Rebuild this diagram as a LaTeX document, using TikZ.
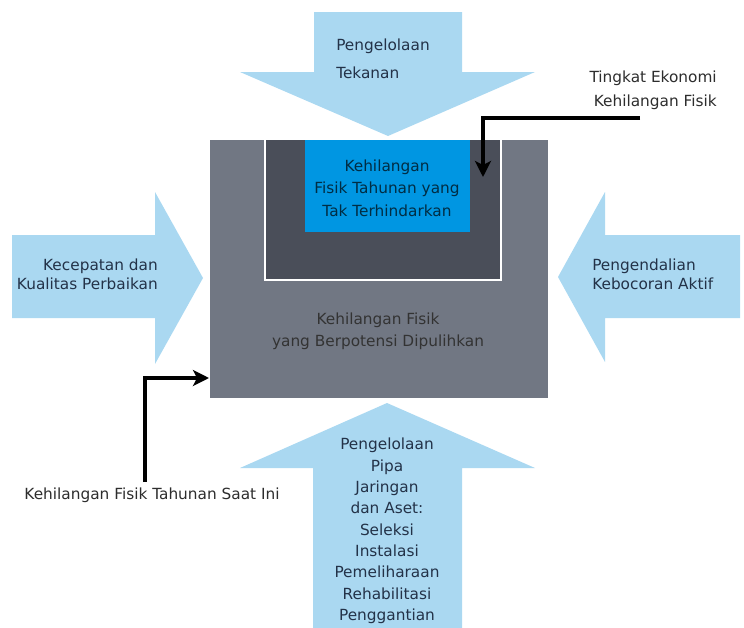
\documentclass[tikz,border=0pt]{standalone}
\usepackage{fontspec}
\setmainfont{DejaVu Sans}
\usetikzlibrary{arrows.meta, positioning}
\definecolor{biruMuda}{RGB}{170,216,241}
\definecolor{biruTua}{RGB}{0,150,226}
\definecolor{abuLuar}{RGB}{113,119,131}
\definecolor{abuDalam}{RGB}{74,78,89}
\definecolor{tinta}{RGB}{35,50,72}
\definecolor{tintaGelap}{RGB}{45,45,45}
\tikzset{
  panah/.style={fill=biruMuda, draw=none},
  teks/.style={text=tinta, inner sep=0pt, font=\fontsize{11.5}{16}\selectfont},
  keterangan/.style={teks, text=tintaGelap},
  garis/.style={-{Stealth[length=12pt, width=12pt, inset=3pt]}, line width=2.6pt, black},
}

\begin{document}
\begin{tikzpicture}[x=0.75pt, y=-0.75pt]
\useasboundingbox (0,0) rectangle (744,628);

% panah biru muda
\fill[panah] (314,12) -- (462,12) -- (462,72) -- (535,72) -- (388,136)
  -- (240,72) -- (314,72) -- cycle;
\fill[panah] (12,235) -- (155,235) -- (155,192) -- (203,278) -- (155,364)
  -- (155,318) -- (12,318) -- cycle;
\fill[panah] (740,235) -- (605,235) -- (605,192) -- (558,277) -- (605,362)
  -- (605,318) -- (740,318) -- cycle;
\fill[panah] (313,628) -- (313,468) -- (240,468) -- (387,403) -- (535,468)
  -- (462,468) -- (462,628) -- cycle;

% kotak
\fill[abuLuar] (210,140) rectangle (548,398);
\fill[abuDalam] (265,140) rectangle (501,280);
\draw[white, line width=2.2pt] (265,140) -- (265,280) -- (501,280) -- (501,140);
\fill[biruTua] (305,140) rectangle (470,232);

% teks
\node[teks, align=left, anchor=west, font=\fontsize{11.5}{21}\selectfont] (tekanan) at (336,59)
  {Pengelolaan\\Tekanan};
\node[teks, align=right, anchor=east, font=\fontsize{11.5}{14.5}\selectfont] (perbaikan) at (158,274)
  {Kecepatan dan\\Kualitas Perbaikan};
\node[teks, align=left, anchor=west, font=\fontsize{11.5}{14.5}\selectfont] (kebocoran) at (592,274)
  {Pengendalian\\Kebocoran Aktif};
\node[teks, align=center, text=biruTua!30!black, font=\fontsize{11.5}{17}\selectfont] (takTerhindar) at (387,188)
  {Kehilangan\\Fisik Tahunan yang\\Tak Terhindarkan};
\node[teks, align=center, text=black!80, font=\fontsize{11.5}{16.5}\selectfont] (dipulihkan) at (378,331)
  {Kehilangan Fisik\\yang Berpotensi Dipulihkan};
\node[teks, align=center] (aset) at (387,531)
  {Pengelolaan\\Pipa\\Jaringan\\dan Aset:\\Seleksi\\Instalasi\\Pemeliharaan\\Rehabilitasi\\Penggantian};
\node[keterangan, align=right, anchor=east, font=\fontsize{11.5}{18}\selectfont] (ekonomi) at (717,90)
  {Tingkat Ekonomi\\Kehilangan Fisik};
\node[keterangan] (saatIni) at (152,495) {Kehilangan Fisik Tahunan Saat Ini};

% garis keterangan
\coordinate (awalAtas) at (640,118);
\coordinate (ujungAtas) at (483,177);
\coordinate (pangkal) at (145,482);
\coordinate (ujungBawah) at (209,378);
\draw[garis] (awalAtas) -| (ujungAtas);
\draw[garis] (pangkal) |- (ujungBawah);

\end{tikzpicture}
\end{document}
